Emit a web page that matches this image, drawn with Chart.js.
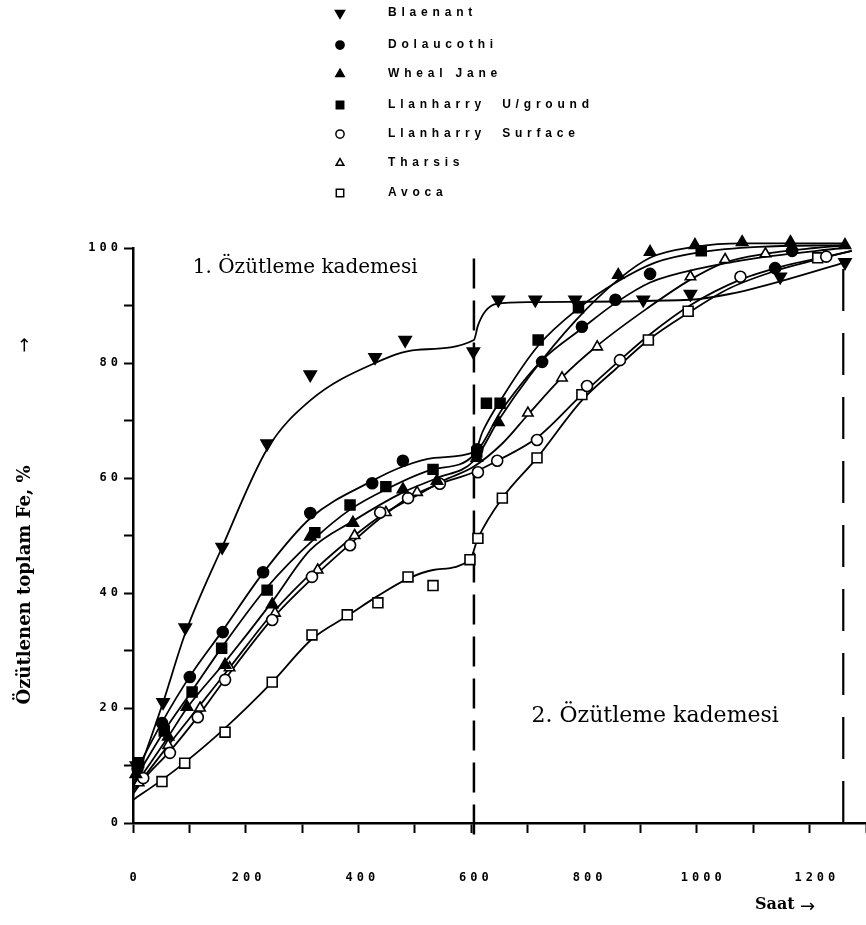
<!DOCTYPE html>
<html>
<head>
<meta charset="utf-8">
<script src="https://cdn.jsdelivr.net/npm/chart.js@4"></script>
<style>
  html, body { margin: 0; padding: 0; background: #fff; }
</style>
</head>
<body>
<canvas id="chart" width="866" height="925"></canvas>
<script>
const blaenantPts = [[6,10],[53,21],[92,34],[157,48],[236,66],[312,78],[426,81],[479,84],[599,82],[643,91],[708,91],[778,91],[898,91],[981,92],[1139,95],[1253,97.5]];
const dolaucothiPts = [[8,9.5],[51,17.4],[100,25.4],[158,33.2],[229,43.6],[312,53.9],[421,59.1],[475,63],[606,65],[720,80.2],[790,86.3],[849,91],[910,95.5],[1130,96.5],[1160,99.5]];
const whealJanePts = [[5,8.5],[62,15],[95,20.2],[162,27.5],[245,38],[312,49.8],[387,52.2],[475,58],[535,59.5],[605,63.5],[643,69.7],[854,95.3],[910,99.3],[989,100.5],[1072,101],[1157,101],[1253,100.5]];
const llanUgPts = [[10,10.5],[55,16],[104,22.8],[156,30.4],[236,40.5],[320,50.5],[382,55.3],[445,58.5],[528,61.5],[605,64.5],[622,73],[646,73],[713,84],[784,89.6],[1000,99.5]];
const llanSurfPts = [[18,7.8],[65,12.2],[114,18.4],[162,24.9],[245,35.3],[315,42.8],[382,48.3],[435,54],[484,56.5],[540,59],[607,61],[641,63],[711,66.6],[799,76],[857,80.5],[1069,95],[1220,98.5]];
const tharsisPts = [[10,7],[62,13.5],[118,20],[170,27],[250,36.5],[325,44],[390,50],[445,54],[500,57.5],[695,71.3],[755,77.4],[817,82.8],[981,95],[1042,98],[1113,99]];
const avocaPts = [[51,7.2],[91,10.4],[162,15.8],[245,24.5],[315,32.7],[377,36.2],[431,38.3],[484,42.8],[528,41.3],[593,45.8],[607,49.5],[650,56.5],[711,63.5],[790,74.5],[907,84],[977,89],[1205,98.3]];

// fitted curves as drawn in the figure
const blaenantFit = [[0,6],[53,21],[92,33],[157,48],[236,65],[312,73.5],[426,80],[500,82.3],[600,84],[607,86.5],[620,89],[640,90.3],[700,90.6],[980,91],[1050,92],[1150,94.5],[1253,97.5]];
const dolaucothiFit = [[0,8],[51,17.5],[100,25.5],[158,33.5],[229,43.5],[312,53],[421,59.5],[475,62],[530,63.5],[600,64.5],[650,72],[720,80.5],[790,86],[850,90.5],[910,94],[1000,96.5],[1100,98.3],[1250,100]];
const whealJaneFit = [[0,6],[62,15],[95,20],[162,28],[245,38.5],[312,47.5],[387,52.5],[475,57.5],[535,60],[600,63],[643,70],[700,78],[780,87.5],[854,94.5],[910,98.3],[989,100.2],[1072,100.8],[1253,100.8]];
const llanUgFit = [[0,7],[55,16],[104,23],[156,30.5],[236,41],[320,49.5],[382,54.5],[445,58],[528,61.5],[600,64],[615,68],[650,74],[713,83],[784,89.5],[850,94],[920,97.5],[1000,99.3],[1100,100.2],[1250,100.5]];
const llanSurfFit = [[0,5],[18,7.5],[65,12.5],[114,18.5],[162,25],[245,35.5],[315,42.5],[382,48.5],[435,53],[484,56.5],[540,59],[600,61],[641,63],[711,67],[790,74.5],[857,80.5],[910,85],[980,90],[1069,94.5],[1150,97],[1220,98.5],[1265,99.5]];
const tharsisFit = [[0,5.5],[62,13.5],[118,20.5],[170,27],[250,37],[325,44.5],[390,50],[445,54],[500,57],[545,59.5],[600,62],[650,66],[695,71],[755,77.5],[817,83],[905,89.5],[981,94.5],[1042,97.5],[1113,99],[1200,100],[1260,100.5]];
const avocaFit = [[0,4],[51,7.5],[91,10.5],[162,16.5],[245,24.5],[315,32],[377,36],[431,39.5],[484,42.5],[528,44],[593,45.8],[607,49.5],[650,56.5],[711,63.5],[790,73.5],[850,79],[907,84],[977,88.7],[1050,93],[1130,96],[1205,98],[1265,99.5]];

const seriesNames = ["Blaenant", "Dolaucothi", "Wheal Jane", "Llanharry  U/ground", "Llanharry  Surface", "Tharsis", "Avoca"];
const seriesPts = [blaenantPts, dolaucothiPts, whealJanePts, llanUgPts, llanSurfPts, tharsisPts, avocaPts];
const seriesFits = [blaenantFit, dolaucothiFit, whealJaneFit, llanUgFit, llanSurfFit, tharsisFit, avocaFit];

const xTickLabels = [0, 200, 400, 600, 800, 1000, 1200];
const stageBounds = [600, 1250];
const stageLabels = ["1. Özütleme kademesi", "2. Özütleme kademesi"];
const yTitle = "Özütlenen toplam Fe, %";
const xTitle = "Saat";

// marker look per series
const markers = [
  { style: "triangle", rot: 180, fill: "#000", r: 7 },
  { style: "circle", rot: 0, fill: "#000", r: 5.5 },
  { style: "triangle", rot: 0, fill: "#000", r: 6.5 },
  { style: "rect", rot: 0, fill: "#000", r: 7 },
  { style: "circle", rot: 0, fill: "#fff", r: 5.5 },
  { style: "triangle", rot: 0, fill: "#fff", r: 6 },
  { style: "rect", rot: 0, fill: "#fff", r: 7 },
];

const toXY = (arr) => arr.map(([x, y]) => ({ x, y }));

const datasets = [];
seriesNames.forEach((name, i) => {
  const m = markers[i];
  datasets.push({
    label: name,
    data: toXY(seriesPts[i]),
    showLine: false,
    order: 0,
    clip: false,
    pointStyle: m.style,
    pointRotation: m.rot,
    pointRadius: m.r,
    pointBackgroundColor: m.fill,
    pointBorderColor: "#000",
    pointBorderWidth: 1.6,
  });
  datasets.push({
    label: name + " fit",
    data: toXY(seriesFits[i]),
    order: 1,
    clip: false,
    borderColor: "#000",
    borderWidth: 1.8,
    pointRadius: 0,
    cubicInterpolationMode: "monotone",
    fill: false,
  });
});
// stage boundaries
datasets.push({
  label: "stage 1/2",
  data: [{ x: stageBounds[0], y: -2 }, { x: stageBounds[0], y: 100 }],
  order: 2, clip: false, borderColor: "#000", borderWidth: 2.5,
  borderDash: [30, 12], pointRadius: 0,
});
datasets.push({
  label: "end",
  data: [{ x: stageBounds[1], y: 0 }, { x: stageBounds[1], y: 98 }],
  order: 2, clip: false, borderColor: "#000", borderWidth: 2.2,
  borderDash: [42, 22], pointRadius: 0,
});

const overlay = {
  id: "overlay",
  beforeDraw(chart) { chart.ctx.letterSpacing = "4px"; },
  beforeDatasetsDraw(chart) { chart.ctx.letterSpacing = "0px"; },
  afterDraw(chart) {
    const { ctx, scales: { x, y } } = chart;
    ctx.save();
    ctx.fillStyle = "#000";
    ctx.textBaseline = "middle";
    ctx.textAlign = "center";

    // x tick labels
    ctx.letterSpacing = "4px";
    ctx.font = 'bold 12px "DejaVu Sans Mono"';
    xTickLabels.forEach((v) => {
      ctx.fillText(String(v), x.getPixelForValue(v) + 2, 878);
    });
    ctx.letterSpacing = "0px";

    // stage labels
    ctx.font = '20px "DejaVu Serif"';
    ctx.fillText(stageLabels[0], x.getPixelForValue(303), y.getPixelForValue(96.5));
    ctx.font = '22px "DejaVu Serif"';
    ctx.fillText(stageLabels[1], x.getPixelForValue(919), y.getPixelForValue(18.6));

    // y title, rotated
    ctx.save();
    ctx.translate(25, 585);
    ctx.rotate(-Math.PI / 2);
    ctx.font = 'bold 18px "DejaVu Serif"';
    ctx.fillText(yTitle, 0, 0);
    ctx.font = '18px "DejaVu Sans"';
    ctx.fillText("→", 240, 0);
    ctx.restore();

    // x title
    ctx.textAlign = "left";
    ctx.font = 'bold 16px "DejaVu Serif"';
    ctx.fillText(xTitle, 755, 905);
    ctx.font = '18px "DejaVu Sans"';
    ctx.fillText("→", 800, 907);

    // legend
    const legY = [13, 45, 74, 105, 134, 163, 193];
    ctx.font = 'bold 12px "Liberation Sans"';
    ctx.letterSpacing = "4.8px";
    seriesNames.forEach((name, i) => {
      const m = markers[i];
      ctx.fillStyle = m.fill;
      ctx.strokeStyle = "#000";
      ctx.lineWidth = 1.5;
      Chart.helpers.drawPoint(ctx, { pointStyle: m.style, rotation: m.rot, radius: m.r * 0.75, borderWidth: 1.5 }, 340, legY[i]);
      ctx.fillStyle = "#000";
      ctx.fillText(name, 388, legY[i]);
    });
    ctx.restore();
  },
};

const tickFont = { family: '"DejaVu Sans Mono"', weight: "bold", size: 12 };

new Chart(document.getElementById("chart"), {
  type: "line",
  data: { datasets },
  options: {
    responsive: false,
    animation: false,
    layout: { autoPadding: false, padding: { top: 248, right: 0, bottom: 0, left: 0 } },
    plugins: { legend: { display: false }, tooltip: { enabled: false } },
    scales: {
      x: {
        type: "linear",
        min: 0,
        max: 1290,
        bounds: "data",
        border: { color: "#000", width: 2.5 },
        grid: { drawOnChartArea: false, tickLength: 10, tickColor: "#000", tickWidth: 2 },
        ticks: { display: false, stepSize: 100, autoSkip: false, includeBounds: false, maxRotation: 0 },
        afterFit: (s) => { s.height = 102; },
      },
      y: {
        type: "linear",
        min: 0,
        max: 100,
        border: { color: "#000", width: 2.5 },
        grid: { drawOnChartArea: false, tickLength: 9, tickColor: "#000", tickWidth: 2 },
        ticks: {
          stepSize: 10, autoSkip: false, padding: 2, color: "#000", font: tickFont,
          callback: (v) => (v % 20 === 0 ? v : ""),
        },
        afterFit: (s) => { s.width = 133; },
      },
    },
  },
  plugins: [overlay],
});
</script>
</body>
</html>
